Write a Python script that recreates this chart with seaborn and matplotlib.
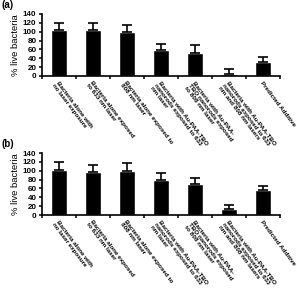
import matplotlib
matplotlib.use("Agg")
import matplotlib.pyplot as plt
import seaborn as sns
import pandas as pd
import numpy as np
from matplotlib.ticker import FixedLocator

sns.set_theme(style="ticks")
plt.rcParams['font.family'] = ['Liberation Sans', 'DejaVu Sans']
plt.rcParams['text.color'] = 'black'
plt.rcParams['axes.labelcolor'] = 'black'
plt.rcParams['xtick.color'] = 'black'
plt.rcParams['ytick.color'] = 'black'

categories = [
    "Bacteria alone with\nno laser exposure",
    "Bacteria alone exposed\nto 633 nm laser",
    "Bacteria alone exposed to\n808 nm laser",
    "Bacteria with Au-PAA-TBO\nnanorods exposed to 633\nnm laser",
    "Bacteria with Au-PAA-\nTBO nanorods exposed\nto 808 nm laser",
    "Bacteria with Au-PAA-TBO\nnanorods exposed to 633\nnm and 808 nm lasers",
    "Predicted Additive",
]
values_a = [103, 105, 99, 59, 53, 5, 32]
errors_a = [16, 15, 16, 13, 17, 10, 10]
values_b = [102, 98, 100, 79, 69, 13, 56]
errors_b = [17, 15, 17, 16, 15, 10, 9]
yticks = [0, 20, 40, 60, 80, 100, 120, 140]
panel_labels = ["(a)", "(b)"]

W, H = 297, 292
fig = plt.figure(figsize=(W / 100, H / 100), dpi=100)
fig.patch.set_facecolor("white")

axes_px = [(42, 14, 280, 76), (42, 153, 280, 215)]
panels = [(values_a, errors_a), (values_b, errors_b)]

for (x0, y0, x1, y1), (vals, errs), plab in zip(axes_px, panels, panel_labels):
    ax = fig.add_axes([x0 / W, 1 - y1 / H, (x1 - x0) / W, (y1 - y0) / H])
    df = pd.DataFrame({"cat": categories, "val": vals})
    sns.barplot(data=df, x="cat", y="val", color="black", width=0.45,
                saturation=1, ax=ax, errorbar=None)
    xs = np.arange(len(categories))
    ax.errorbar(xs, vals, yerr=[np.zeros(len(errs)), errs], fmt="none",
                ecolor="black", elinewidth=1.2, capsize=3.6, capthick=1.2)
    ax.set_xlim(-0.5, len(categories) - 0.5)
    ax.set_ylim(0, 140)
    ax.set_yticks(yticks)
    ax.set_yticklabels([str(t) for t in yticks], fontsize=5.8, fontweight="bold")
    ax.set_xticks(xs)
    ax.set_xticklabels(categories, rotation=-53, ha="left", va="top",
                       rotation_mode="anchor", fontsize=4.5, fontweight="bold",
                       multialignment="left", linespacing=0.95)
    ax.tick_params(axis="x", which="major", length=0, pad=3)
    ax.xaxis.set_minor_locator(FixedLocator(np.arange(-0.5, len(categories), 1.0)))
    ax.tick_params(axis="x", which="minor", length=2.5, width=1.1, direction="out", color="black")
    ax.tick_params(axis="y", length=2.5, width=1.1, direction="out", color="black", pad=1.5)
    ax.set_xlabel("")
    ax.set_ylabel("% live bacteria", fontsize=6.8, labelpad=2)
    for s in ["top", "right"]:
        ax.spines[s].set_visible(False)
    for s in ["left", "bottom"]:
        ax.spines[s].set_linewidth(1.2)
        ax.spines[s].set_color("black")
    ax.set_facecolor("white")
    fig.text(2 / W, 1 - (y0 - 9) / H, plab, fontsize=7, fontweight="bold",
             ha="left", va="center")

fig.savefig("out.png", dpi=100, facecolor="white")
